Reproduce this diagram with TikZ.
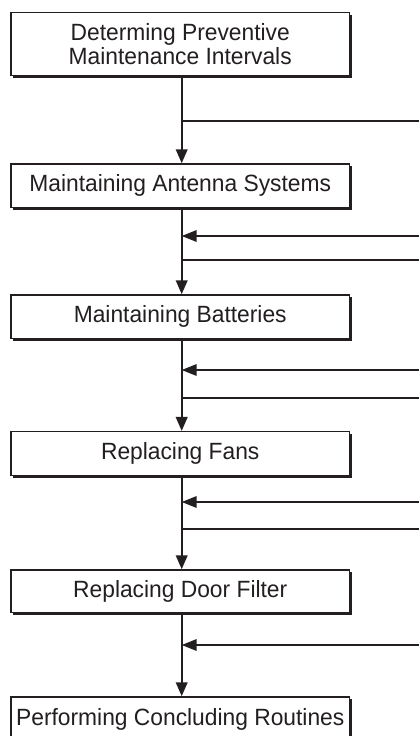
\documentclass[tikz,border=0pt]{standalone}
\usepackage{fontspec}
\setmainfont{Liberation Sans}[FakeStretch=0.97]
\usetikzlibrary{arrows.meta,shadows}
\definecolor{ink}{HTML}{231F20}
\begin{document}
\begin{tikzpicture}[x=1pt,y=-1pt,
  box/.style={draw=ink,line width=1.5pt,fill=white,minimum width=338.5pt,inner sep=0pt,
    align=center,text=ink,font=\fontsize{23.5}{24.7}\selectfont,
    drop shadow={shadow xshift=2pt,shadow yshift=-2pt,fill=ink,opacity=1}},
  flow/.style={draw=ink,line width=2.4pt,-{Triangle[length=14pt,width=11.5pt]}},
  hin/.style={draw=ink,line width=1.8pt,-{Triangle[length=15pt,width=11.5pt]}},
  hout/.style={draw=ink,line width=1.8pt}]
\useasboundingbox (0,0) rectangle (419,736);
\clip (0,0) rectangle (419,736);
\coordinate (vx) at (181.7,0);
\node[box,minimum height=62.8pt] (b1) at (180.25,44.1) {Determing Preventive\\Maintenance Intervals};
\node[box,minimum height=43.5pt] (b2) at (180.25,185.75) {Maintaining Antenna Systems};
\node[box,minimum height=43.5pt] (b3) at (180.25,316.75) {Maintaining Batteries};
\node[box,minimum height=43.8pt] (b4) at (180.25,453.6) {Replacing Fans};
\node[box,minimum height=42.5pt] (b5) at (180.25,591.25) {Replacing Door Filter};
\node[box,minimum height=44pt] (b6) at (180.25,719) {Performing Concluding Routines};
% vertical flow
\draw[flow] (b1.south -| vx) -- (b2.north -| vx);
\draw[flow] (b2.south -| vx) -- (b3.north -| vx);
\draw[flow] (b3.south -| vx) -- (b4.north -| vx);
\draw[flow] (b4.south -| vx) -- (b5.north -| vx);
\draw[flow] (b5.south -| vx) -- (b6.north -| vx);
% side connectors
\coordinate (o1) at (419,120.7);
\coordinate (i2) at (419,236);
\coordinate (o2) at (419,260);
\coordinate (i3) at (419,370);
\coordinate (o3) at (419,398);
\coordinate (i4) at (419,502);
\coordinate (o4) at (419,529);
\coordinate (i5) at (419,645);
\draw[hout] (o1 -| vx) -- (o1);
\draw[hin] (i2) -- (i2 -| vx);
\draw[hout] (o2 -| vx) -- (o2);
\draw[hin] (i3) -- (i3 -| vx);
\draw[hout] (o3 -| vx) -- (o3);
\draw[hin] (i4) -- (i4 -| vx);
\draw[hout] (o4 -| vx) -- (o4);
\draw[hin] (i5) -- (i5 -| vx);
\end{tikzpicture}
\end{document}
